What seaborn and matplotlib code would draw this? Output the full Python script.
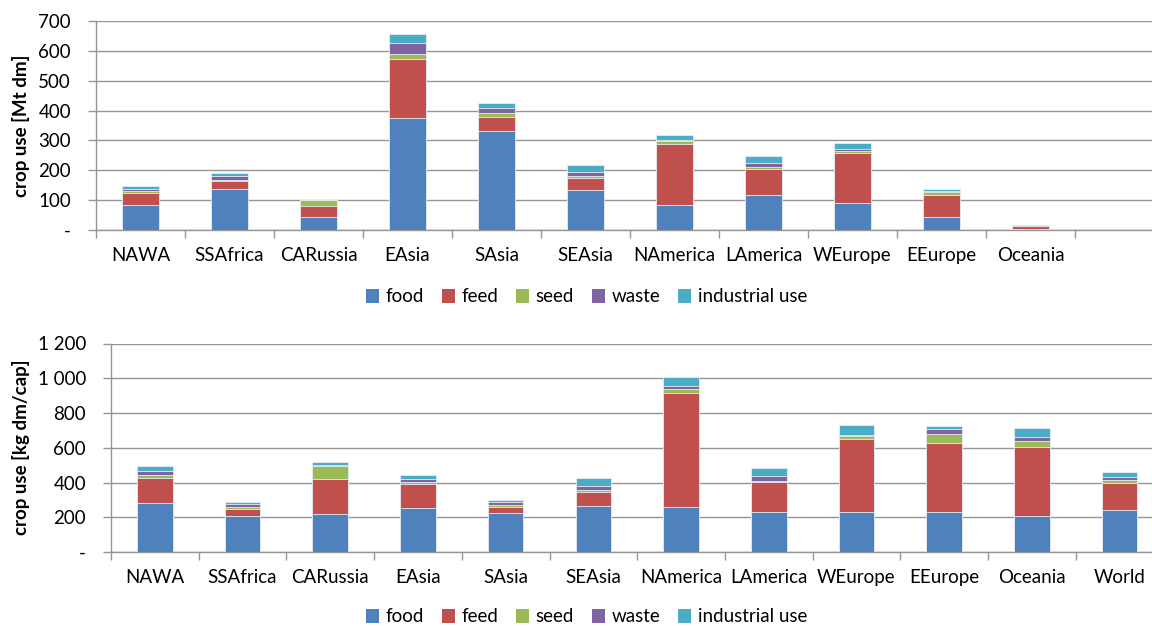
import numpy as np
import pandas as pd
import matplotlib
matplotlib.use("Agg")
import matplotlib.pyplot as plt
from matplotlib.patches import Patch
from matplotlib.ticker import FixedLocator, FuncFormatter
import seaborn as sns

# ---- data ----
regions_total = ["NAWA", "SSAfrica", "CARussia", "EAsia", "SAsia", "SEAsia",
                 "NAmerica", "LAmerica", "WEurope", "EEurope", "Oceania"]
food_mt = [83, 136, 42, 374, 330, 134, 83, 117, 90, 42, 2]
feed_mt = [42, 27, 39, 200, 47, 41, 206, 87, 168, 75, 10]
seed_mt = [7, 5, 18, 17, 15, 6, 8, 7, 5, 10, 3]
waste_mt = [6, 13, 1, 34, 18, 14, 5, 13, 7, 4, 1]
industrial_mt = [9, 9, 2, 32, 15, 23, 17, 24, 20, 6, 1]

regions_cap = regions_total + ["World"]
food_cap = [283, 205, 218, 254, 226, 264, 261, 233, 233, 233, 208, 239]
feed_cap = [143, 42, 202, 138, 34, 80, 653, 168, 416, 393, 397, 158]
seed_cap = [15, 11, 75, 11, 11, 11, 25, 8, 17, 55, 34, 15]
waste_cap = [25, 19, 8, 19, 14, 25, 17, 29, 10, 25, 21, 21]
industrial_cap = [27, 10, 13, 23, 13, 44, 50, 46, 55, 21, 55, 25]

uses = ["food", "feed", "seed", "waste", "industrial use"]
use_colors = ["#4F81BD", "#C0504D", "#9BBB59", "#8064A2", "#4BACC6"]

plt.rcParams["font.family"] = ["Lato", "DejaVu Sans"]

W, H = 1152, 626
fig = plt.figure(figsize=(W / 100, H / 100), dpi=100)

GRID = "#959595"
TXT = 13.5


def stacked(ax, cats, layers, ymax, step, fmt, slot_px, ax_px):
    df = pd.DataFrame({"region": cats})
    cum = np.zeros(len(cats))
    cums = []
    for vals in layers:
        cum = cum + np.asarray(vals, dtype=float)
        cums.append(cum.copy())
    # draw tallest cumulative first so each lower layer sits on top of it
    for name, col, c in reversed(list(zip(uses, use_colors, cums))):
        df[name] = c
        sns.barplot(data=df, x="region", y=name, order=cats, color=col,
                    width=0.405, saturation=1, edgecolor="#e8eef6",
                    linewidth=0.6, ax=ax, zorder=3)
    ax.set_xlabel("")
    ax.set_ylabel("")
    ax.set_ylim(0, ymax)
    ax.set_xlim(-0.5, -0.5 + ax_px / slot_px)
    ax.yaxis.set_major_locator(FixedLocator(np.arange(0, ymax + 1, step)))
    ax.yaxis.set_major_formatter(FuncFormatter(fmt))
    ax.grid(axis="y", color=GRID, linewidth=1.0, zorder=0)
    ax.set_axisbelow(True)
    for s in ["top", "right"]:
        ax.spines[s].set_visible(False)
    for s in ["left", "bottom"]:
        ax.spines[s].set_color(GRID)
        ax.spines[s].set_linewidth(1.0)
    ax.xaxis.set_minor_locator(FixedLocator(np.arange(-0.5, 11.0, 1.0)))
    ax.tick_params(axis="x", which="major", length=0, pad=12, labelsize=TXT,
                   colors="black")
    ax.tick_params(axis="x", which="minor", length=6, width=1, color=GRID,
                   direction="out")
    ax.tick_params(axis="y", which="major", length=6, width=1, color=GRID,
                   pad=12, labelsize=TXT, labelcolor="black")
    ax.set_facecolor("white")


def fmt_mt(v, _):
    return "-" if v == 0 else f"{int(v)}"


def fmt_cap(v, _):
    if v == 0:
        return "-"
    return f"{int(v):,}".replace(",", " ")


# upper panel: total crop use
ax1 = fig.add_axes([96 / W, 1 - 230 / H, (W - 96) / W, 209 / H])
stacked(ax1, regions_total,
        [food_mt, feed_mt, seed_mt, waste_mt, industrial_mt],
        700, 100, fmt_mt, 89.0, W - 96)

# lower panel: per-capita crop use
ax2 = fig.add_axes([111 / W, 1 - 552 / H, (W - 111) / W, 208.5 / H])
stacked(ax2, regions_cap,
        [food_cap, feed_cap, seed_cap, waste_cap, industrial_cap],
        1200, 200, fmt_cap, 87.7, W - 111)

fig.text(21.5 / W, 1 - 126 / H, "crop use [Mt dm]", rotation=90,
         ha="center", va="center", fontsize=TXT, fontweight="bold")
fig.text(21.5 / W, 1 - 447 / H, "crop use [kg dm/cap]", rotation=90,
         ha="center", va="center", fontsize=TXT, fontweight="bold")

handles = [Patch(facecolor=c, edgecolor="none", label=u)
           for u, c in zip(uses, use_colors)]
for yc in (297, 617):
    fig.legend(handles=handles, loc="center",
               bbox_to_anchor=(586.5 / W, 1 - yc / H), ncol=5, frameon=False,
               fontsize=TXT, handlelength=0.7, handleheight=0.7,
               handletextpad=0.35, columnspacing=0.95, borderpad=0,
               borderaxespad=0)

fig.savefig("out.png", dpi=100, facecolor="white")
